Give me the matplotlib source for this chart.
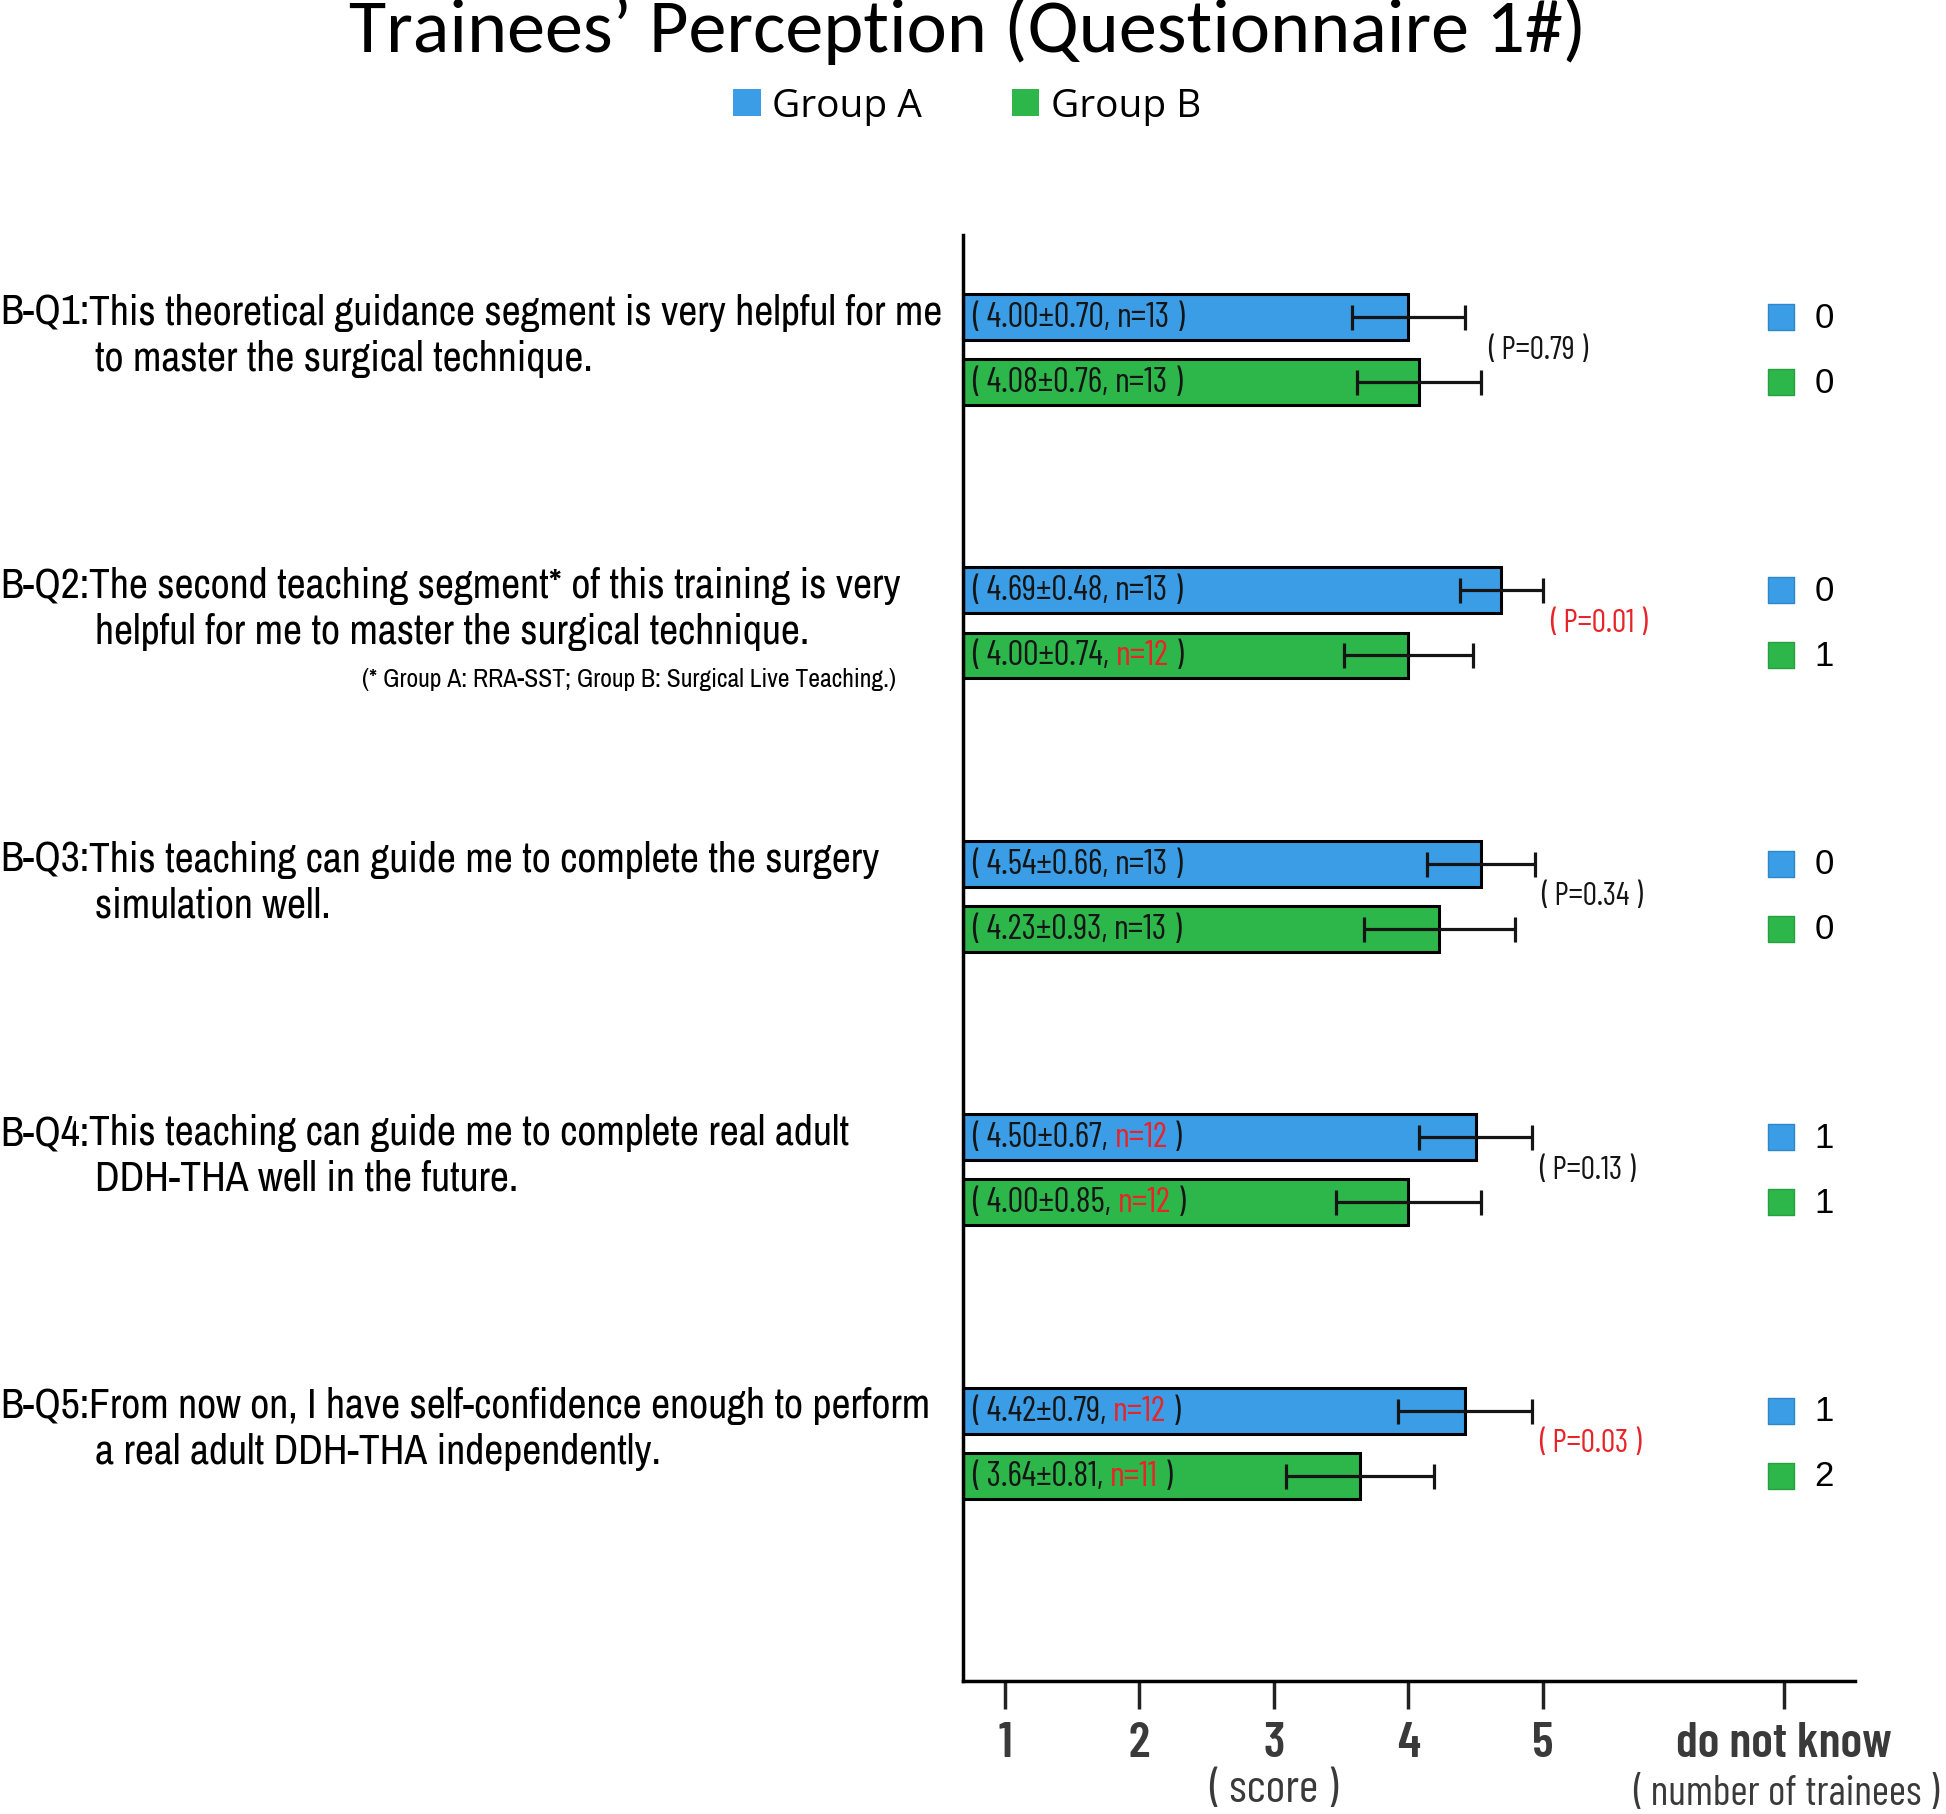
import numpy as np
import matplotlib
matplotlib.use("Agg")
import matplotlib.pyplot as plt
import matplotlib.transforms as mtransforms
from matplotlib.patches import Patch

# ---- data ----
prefixes = ["B-Q1:", "B-Q2:", "B-Q3:", "B-Q4:", "B-Q5:"]
q_line1 = ["This theoretical guidance segment is very helpful for me",
           "The second teaching segment* of this training is very",
           "This teaching can guide me to complete the surgery",
           "This teaching can guide me to complete real adult",
           "From now on, I have self-confidence enough to perform"]
q_line2 = ["to master the surgical technique.",
           "helpful for me to master the surgical technique.",
           "simulation well.",
           "DDH-THA well in the future.",
           "a real adult DDH-THA independently."]
footnote = "(* Group A: RRA-SST; Group B: Surgical Live Teaching.)"

mean_a = [4.00, 4.69, 4.54, 4.50, 4.42]
sd_a = [0.70, 0.48, 0.66, 0.67, 0.79]
n_a = [13, 13, 13, 12, 12]
mean_b = [4.08, 4.00, 4.23, 4.00, 3.64]
sd_b = [0.76, 0.74, 0.93, 0.85, 0.81]
n_b = [13, 12, 13, 12, 11]
# half-length of the whiskers as drawn
err_a = [0.42, 0.31, 0.40, 0.42, 0.50]
err_b = [0.46, 0.48, 0.56, 0.54, 0.55]
p_values = [0.79, 0.01, 0.34, 0.13, 0.03]
dnk_a = [0, 0, 0, 1, 1]
dnk_b = [0, 1, 0, 1, 2]

score_ticks = [1, 2, 3, 4, 5]
dnk_pos = 6.79
tick_labels = ["1", "2", "3", "4", "5", "do not know"]

blue = "#3a9de6"
green = "#2db64a"
red = "#e8242a"
ink = "#151515"
cond = ["Barlow Condensed", "DejaVu Sans"]
narrow = ["Archivo Narrow", "DejaVu Sans"]

fig = plt.figure(figsize=(19.46, 18.15), dpi=100)
W, H = 1946, 1815
ax = fig.add_axes([963 / W, 133 / H, (1855 - 963) / W, (1682 - 236) / H])
x0, x1 = 0.688, 7.32
ax.set_xlim(x0, x1)
ax.set_ylim(4.870, -0.419)

y = np.arange(len(prefixes))
off, bh = 0.119, 0.168
ax.barh(y - off, np.array(mean_a) - x0, left=x0, height=bh, color=blue,
        edgecolor="black", linewidth=2.2, zorder=2)
ax.barh(y + off, np.array(mean_b) - x0, left=x0, height=bh, color=green,
        edgecolor="black", linewidth=2.2, zorder=2)
ax.errorbar(mean_a, y - off, xerr=err_a, fmt="none", ecolor=ink,
            elinewidth=2.3, capsize=9, capthick=2.3, zorder=3)
ax.errorbar(mean_b, y + off, xerr=err_b, fmt="none", ecolor=ink,
            elinewidth=2.3, capsize=9, capthick=2.3, zorder=3)


def bar_label(yy, m, s, n):
    t1 = ax.text(x0 + 0.065, yy, "( %.2f\u00b1%.2f, " % (m, s), va="center",
                 ha="left", fontsize=25, family=cond, color=ink, zorder=4)
    t2 = ax.annotate("n=%d" % n, xy=(1, 0), xycoords=t1, va="bottom", ha="left",
                     fontsize=25, family=cond,
                     color=red if n < 13 else ink, zorder=4)
    ax.annotate(" )", xy=(1, 0), xycoords=t2, va="bottom", ha="left",
                fontsize=25, family=cond, color=ink, zorder=4)


for i in range(len(prefixes)):
    bar_label(y[i] - off, mean_a[i], sd_a[i], n_a[i])
    bar_label(y[i] + off, mean_b[i], sd_b[i], n_b[i])
    top = max(mean_a[i] + err_a[i], mean_b[i] + err_b[i])
    ax.text(top + 0.05, y[i], "( P=%.2f )" % p_values[i], va="center", ha="left",
            fontsize=23, family=cond, color=red if p_values[i] < 0.05 else ink)
    ax.text(7.09, y[i] - off, str(dnk_a[i]), va="center", ha="center",
            fontsize=25, family=["Liberation Sans", "DejaVu Sans"])
    ax.text(7.09, y[i] + off, str(dnk_b[i]), va="center", ha="center",
            fontsize=25, family=["Liberation Sans", "DejaVu Sans"])

ax.scatter([dnk_pos - 0.02] * len(y), y - off, marker="s", s=370, color=blue,
           edgecolor="#2f86c8", linewidth=1, zorder=3)
ax.scatter([dnk_pos - 0.02] * len(y), y + off, marker="s", s=370, color=green,
           edgecolor="#27a040", linewidth=1, zorder=3)

# question texts on the left
tq = mtransforms.blended_transform_factory(fig.transFigure, ax.transData)
for i in range(len(prefixes)):
    p = ax.text(0.0, y[i] - 0.094, prefixes[i], transform=tq, va="baseline",
                ha="left", fontsize=30, family=narrow, color="black")
    ax.annotate(q_line1[i], xy=(1, 0), xycoords=p, va="bottom", ha="left",
                fontsize=30, family=narrow, color="black")
    ax.annotate(q_line2[i], xy=(1, 0), xycoords=p, xytext=(4, -33),
                textcoords="offset points", va="bottom", ha="left",
                fontsize=30, family=narrow, color="black")
ax.text(896 / W, y[1] + 0.205, footnote, transform=tq, va="center", ha="right",
        fontsize=18.5, family=narrow, color="black")

# axes styling
for side in ["top", "right"]:
    ax.spines[side].set_visible(False)
ax.spines["left"].set_linewidth(2.5)
ax.spines["bottom"].set_linewidth(2.5)
ax.set_yticks([])
ax.set_xticks(score_ticks + [dnk_pos])
ax.set_xticklabels(tick_labels, fontsize=36, fontweight="semibold", family=cond,
                   color="#3a3a3a")
ax.tick_params(axis="x", direction="out", length=20, width=2.5, pad=9,
               color="#222222")

tb = mtransforms.blended_transform_factory(ax.transData, fig.transFigure)
ax.text(3, 1 - 1790 / H, "( score )", transform=tb, ha="center", va="center",
        fontsize=34, family=cond, color="#3a3a3a")
ax.text(dnk_pos + 0.02, 1 - 1795 / H, "( number of trainees )", transform=tb,
        ha="center", va="center", fontsize=30, family=cond, color="#3a3a3a")

fig.text(0.497, 1 - 31 / H, "Trainees\u2019 Perception (Questionnaire 1#)",
         ha="center", va="center", fontsize=55,
         family=["Carlito", "Lato", "DejaVu Sans"])
fig.legend(handles=[Patch(facecolor=blue), Patch(facecolor=green)],
           labels=["Group A", "Group B"], loc="center",
           bbox_to_anchor=(0.497, 1 - 107 / H), ncol=2, frameon=False,
           prop={"family": "Open Sans", "size": 28}, handlelength=0.7,
           handleheight=0.7, handletextpad=0.3, columnspacing=2.3)

fig.savefig("out.png", dpi=100)
